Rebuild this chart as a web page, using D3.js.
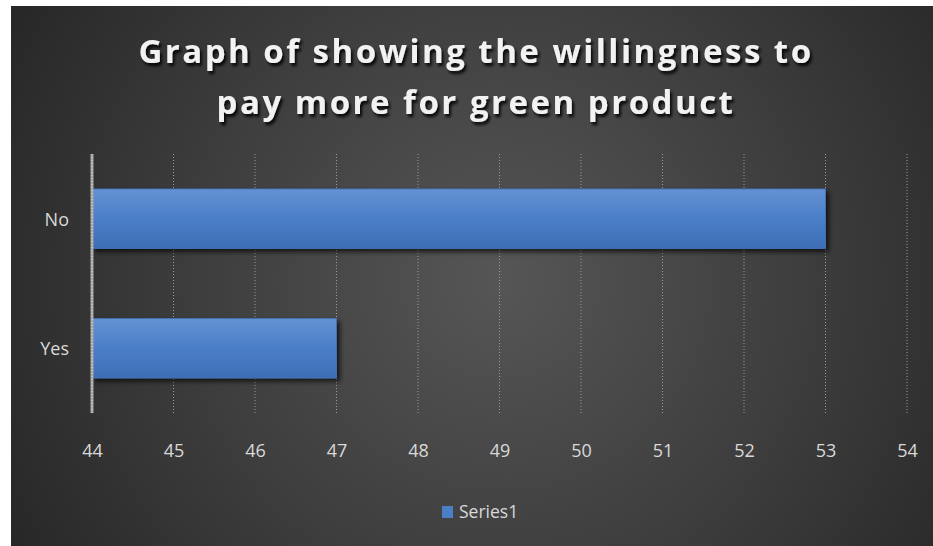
<!DOCTYPE html>
<html>
<head>
<meta charset="utf-8">
<script src="https://cdn.jsdelivr.net/npm/d3@7"></script>
<style>
  html, body { margin: 0; padding: 0; background: #ffffff; }
  svg { display: block; }
</style>
</head>
<body>
<svg id="chart" width="933" height="546"></svg>
<script>
// Chart data
const categories = ["No", "Yes"];
const values = [53, 47];
const seriesName = "Series1";
const tickValues = [44, 45, 46, 47, 48, 49, 50, 51, 52, 53, 54];
const titleLines = ["Graph of showing the willingness to", "pay more for green product"];

const W = 933, H = 546;
const svg = d3.select("#chart");
const defs = svg.append("defs");

// Dark panel with a soft radial highlight
const bg = defs.append("radialGradient").attr("id", "bg")
  .attr("gradientUnits", "userSpaceOnUse")
  .attr("cx", 500).attr("cy", 280).attr("r", 560);
bg.append("stop").attr("offset", "0").attr("stop-color", "#565656");
bg.append("stop").attr("offset", "0.55").attr("stop-color", "#3d3d3d");
bg.append("stop").attr("offset", "1").attr("stop-color", "#272727");

const barGrad = defs.append("linearGradient").attr("id", "barGrad")
  .attr("x1", 0).attr("y1", 0).attr("x2", 0).attr("y2", 1);
barGrad.append("stop").attr("offset", "0").attr("stop-color", "#6491d3");
barGrad.append("stop").attr("offset", "0.5").attr("stop-color", "#4a7fc8");
barGrad.append("stop").attr("offset", "1").attr("stop-color", "#3c6eb4");

const shadow = defs.append("filter").attr("id", "barShadow")
  .attr("x", "-5%").attr("y", "-20%").attr("width", "115%").attr("height", "150%");
shadow.append("feGaussianBlur").attr("in", "SourceAlpha").attr("stdDeviation", 2.5).attr("result", "b");
shadow.append("feOffset").attr("in", "b").attr("dx", 3).attr("dy", 3).attr("result", "o");
shadow.append("feComponentTransfer").attr("in", "o").attr("result", "s")
  .append("feFuncA").attr("type", "linear").attr("slope", 0.7);
const sm = shadow.append("feMerge");
sm.append("feMergeNode").attr("in", "s");
sm.append("feMergeNode").attr("in", "SourceGraphic");

const tShadow = defs.append("filter").attr("id", "titleShadow")
  .attr("x", "-10%").attr("y", "-30%").attr("width", "120%").attr("height", "160%");
tShadow.append("feGaussianBlur").attr("in", "SourceAlpha").attr("stdDeviation", 1.5).attr("result", "b");
tShadow.append("feOffset").attr("in", "b").attr("dx", 2).attr("dy", 3).attr("result", "o");
tShadow.append("feComponentTransfer").attr("in", "o").attr("result", "s")
  .append("feFuncA").attr("type", "linear").attr("slope", 0.9);
const tm = tShadow.append("feMerge");
tm.append("feMergeNode").attr("in", "s");
tm.append("feMergeNode").attr("in", "SourceGraphic");

svg.append("rect").attr("x", 11).attr("y", 6).attr("width", W - 11).attr("height", H - 6)
  .attr("fill", "url(#bg)");

// Plot area
const plot = { left: 92, right: 907, top: 154, bottom: 413 };

const x = d3.scaleLinear().domain([d3.min(tickValues), d3.max(tickValues)])
  .range([plot.left, plot.right]);
const y = d3.scaleBand().domain(categories)
  .range([plot.top, plot.bottom]).paddingInner(0.54).paddingOuter(0.27);

// Vertical gridlines
svg.append("g").selectAll("line").data(tickValues.slice(1)).join("line")
  .attr("x1", d => x(d)).attr("x2", d => x(d))
  .attr("y1", plot.top).attr("y2", plot.bottom)
  .attr("stroke", "#9a9a9a").attr("stroke-width", 1)
  .attr("stroke-dasharray", "1,2");

// Bars
svg.append("g").selectAll("rect").data(categories).join("rect")
  .attr("x", x(d3.min(tickValues)))
  .attr("y", d => y(d))
  .attr("width", (d, i) => x(values[i]) - x(d3.min(tickValues)))
  .attr("height", y.bandwidth())
  .attr("fill", "url(#barGrad)")
  .attr("stroke", "#4173b8").attr("stroke-width", 0.8)
  .attr("filter", "url(#barShadow)");

// Category axis line
svg.append("line")
  .attr("x1", plot.left).attr("x2", plot.left)
  .attr("y1", plot.top).attr("y2", plot.bottom)
  .attr("stroke", "#a6a6a6").attr("stroke-width", 3);
svg.append("line")
  .attr("x1", plot.left).attr("x2", plot.left)
  .attr("y1", plot.top).attr("y2", plot.bottom)
  .attr("stroke", "#dcdcdc").attr("stroke-width", 1)
  .attr("stroke-dasharray", "1,2");

const font = "'Open Sans', 'Noto Sans', sans-serif";
const labelColor = "#d9d9d9";

// Value axis labels
const xAxis = d3.axisBottom(x).tickValues(tickValues).tickSize(0).tickPadding(0);
const gx = svg.append("g").attr("transform", `translate(0, ${plot.bottom + 44})`).call(xAxis);
gx.attr("font-family", font).attr("font-size", 18);
gx.select(".domain").remove();
gx.selectAll("text").attr("dy", 0).attr("fill", labelColor);

// Category labels
const yAxis = d3.axisLeft(y).tickSize(0).tickPadding(23);
const gy = svg.append("g").attr("transform", `translate(${plot.left}, 0)`).call(yAxis);
gy.attr("font-family", font).attr("font-size", 18);
gy.select(".domain").remove();
gy.selectAll("text").attr("dy", "0.38em").attr("fill", labelColor);

// Title
svg.append("g").attr("filter", "url(#titleShadow)")
  .selectAll("text").data(titleLines).join("text")
  .attr("x", 476).attr("y", (d, i) => 63 + i * 51)
  .attr("text-anchor", "middle")
  .attr("font-family", font).attr("font-weight", 700).attr("font-size", 33)
  .attr("letter-spacing", 2.5)
  .attr("fill", "#f2f2f2")
  .text(d => d);

// Legend
const legend = svg.append("g").attr("transform", "translate(442, 506)");
legend.append("rect").attr("width", 11).attr("height", 12).attr("fill", "#4a7fc8");
legend.append("text").attr("x", 17).attr("y", 12)
  .attr("fill", labelColor).attr("font-family", font).attr("font-size", 17.5)
  .text(seriesName);
</script>
</body>
</html>
